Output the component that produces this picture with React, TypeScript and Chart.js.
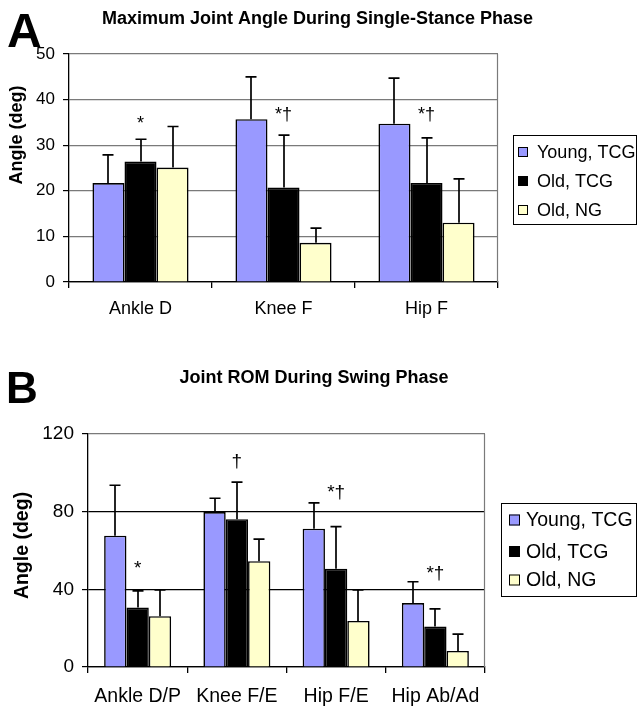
import React, { useEffect, useRef } from "react";
import { Chart, registerables } from "chart.js";
Chart.register(...registerables);

const FONT = "'Liberation Sans', Arial, sans-serif";

const seriesNames = ["Young, TCG", "Old, TCG", "Old, NG"];
const seriesColors = ["#9999FF", "#000000", "#FFFFCC"];

// Panel A: Maximum joint angle during single-stance phase
const categoriesA = ["Ankle D", "Knee F", "Hip F"];
const youngA = [21.7, 35.7, 34.7];
const oldTcgA = [26.4, 20.7, 21.7];
const oldNgA = [25.1, 8.6, 13.0];
const youngSdA = [6.2, 9.3, 10.0];
const oldTcgSdA = [4.9, 11.5, 9.9];
const oldNgSdA = [9.0, 3.2, 9.6];
const marksA = ["*", "*†", "*†"];
const markLevelsA = [34.6, 36.6, 36.6];
const ticksA = [0, 10, 20, 30, 40, 50];

// Panel B: Joint ROM during swing phase
const categoriesB = ["Ankle D/P", "Knee F/E", "Hip F/E", "Hip Ab/Ad"];
const youngB = [67.6, 79.8, 71.2, 32.9];
const oldTcgB = [30.6, 76.1, 50.6, 20.8];
const oldNgB = [26.2, 54.5, 23.7, 8.3];
const youngSdB = [26.0, 7.1, 13.3, 11.0];
const oldTcgSdB = [8.6, 19.1, 21.7, 9.1];
const oldNgSdB = [13.5, 11.4, 16.0, 8.6];
const marksB = ["*", "†", "*†", "*†"];
const markLevelsB = [50.4, 105.8, 89.8, 47.8];
const ticksB = [0, 40, 80, 120];

type Spec = {
  canvasH: number;
  categories: string[];
  values: number[][];
  sds: number[][];
  marks: string[];
  markLevels: number[];
  yTicks: number[];
  area: { left: number; right: number; top: number; bottom: number };
  tickFont: number;
  tickPad: number;
  catFont: number;
  catPad: number;
  gridColor: (v: number) => string;
  catPct: number;
  letter: string;
  letterFont: number;
  letterX: number;
  letterBase: number;
  title: string;
  titleFont: number;
  titleX: number;
  titleBase: number;
  ylabel: string;
  ylabelFont: number;
  ylabelX: number;
  ylabelY: number;
  legend: { x: number; y: number; w: number; h: number; font: number; swatch: number; swX: number; textX: number; rows: number[] };
  markFont: number;
  capHalf: number;
};

const specA: Spec = {
  canvasH: 345,
  categories: categoriesA,
  values: [youngA, oldTcgA, oldNgA],
  sds: [youngSdA, oldTcgSdA, oldNgSdA],
  marks: marksA,
  markLevels: markLevelsA,
  yTicks: ticksA,
  area: { left: 69, right: 498, top: 54, bottom: 282 },
  tickFont: 17,
  tickPad: 8,
  catFont: 18,
  catPad: 10,
  gridColor: (v) => (v === 0 ? "#000000" : "#7a7a7a"),
  catPct: 0.672,
  letter: "A",
  letterFont: 48,
  letterX: 7,
  letterBase: 47,
  title: "Maximum Joint Angle During Single-Stance Phase",
  titleFont: 18,
  titleX: 317.5,
  titleBase: 24,
  ylabel: "Angle (deg)",
  ylabelFont: 18,
  ylabelX: 17.5,
  ylabelY: 135,
  legend: { x: 513.5, y: 135.5, w: 123, h: 89, font: 18, swatch: 10, swX: 518, textX: 537, rows: [152, 181, 210] },
  markFont: 18,
  capHalf: 5.5,
};

const specB: Spec = {
  canvasH: 361,
  categories: categoriesB,
  values: [youngB, oldTcgB, oldNgB],
  sds: [youngSdB, oldTcgSdB, oldNgSdB],
  marks: marksB,
  markLevels: markLevelsB,
  yTicks: ticksB,
  area: { left: 88, right: 485, top: 89, bottom: 322 },
  tickFont: 19,
  tickPad: 8,
  catFont: 19.5,
  catPad: 12,
  gridColor: (v) => (v === 120 ? "#7a7a7a" : "#000000"),
  catPct: 0.675,
  letter: "B",
  letterFont: 44,
  letterX: 6,
  letterBase: 58,
  title: "Joint ROM During Swing Phase",
  titleFont: 18,
  titleX: 314,
  titleBase: 38,
  ylabel: "Angle (deg)",
  ylabelFont: 19.5,
  ylabelX: 22.5,
  ylabelY: 200.5,
  legend: { x: 501.5, y: 158.5, w: 135, h: 93, font: 19.5, swatch: 11, swX: 509, textX: 526, rows: [175, 206.5, 235] },
  markFont: 19,
  capHalf: 5.5,
};

function makeChart(canvas: HTMLCanvasElement, s: Spec): Chart {
  const W = 639;
  const yMax = s.yTicks[s.yTicks.length - 1];
  const overlay = {
    id: "overlay",
    afterDatasetsDraw(chart: any) {
      const ctx = chart.ctx as CanvasRenderingContext2D;
      const y = chart.scales.y;
      const ca = chart.chartArea;
      ctx.save();
      // error bars (upper only)
      ctx.strokeStyle = "#000";
      ctx.lineWidth = 1.7;
      s.values.forEach((vals, di) => {
        const meta = chart.getDatasetMeta(di);
        meta.data.forEach((el: any, i: number) => {
          const top = y.getPixelForValue(vals[i] + s.sds[di][i]);
          const x = Math.round(el.x);
          ctx.beginPath();
          ctx.moveTo(x, el.y);
          ctx.lineTo(x, top);
          ctx.moveTo(x - s.capHalf, top);
          ctx.lineTo(x + s.capHalf, top);
          ctx.stroke();
        });
      });
      // significance marks above the Old, TCG bars
      const meta1 = chart.getDatasetMeta(1);
      ctx.fillStyle = "#000";
      ctx.font = `${s.markFont}px ${FONT}`;
      ctx.textAlign = "center";
      ctx.textBaseline = "middle";
      s.marks.forEach((m, i) => {
        const el: any = meta1.data[i];
        ctx.fillText(m, el.x, y.getPixelForValue(s.markLevels[i]));
      });
      // right border of the plot area
      ctx.strokeStyle = "#7a7a7a";
      ctx.lineWidth = 1.2;
      ctx.beginPath();
      ctx.moveTo(Math.round(ca.right) - 0.5, ca.top);
      ctx.lineTo(Math.round(ca.right) - 0.5, ca.bottom);
      ctx.stroke();
      ctx.restore();
    },
    afterDraw(chart: any) {
      const ctx = chart.ctx as CanvasRenderingContext2D;
      ctx.save();
      ctx.fillStyle = "#000";
      // panel letter
      ctx.font = `bold ${s.letterFont}px ${FONT}`;
      ctx.textAlign = "left";
      ctx.textBaseline = "alphabetic";
      ctx.fillText(s.letter, s.letterX, s.letterBase);
      // title
      ctx.font = `bold ${s.titleFont}px ${FONT}`;
      ctx.textAlign = "center";
      ctx.fillText(s.title, s.titleX, s.titleBase);
      // y label
      ctx.save();
      ctx.translate(s.ylabelX, s.ylabelY);
      ctx.rotate(-Math.PI / 2);
      ctx.font = `bold ${s.ylabelFont}px ${FONT}`;
      ctx.textAlign = "center";
      ctx.textBaseline = "middle";
      ctx.fillText(s.ylabel, 0, 0);
      ctx.restore();
      // legend
      const L = s.legend;
      ctx.strokeStyle = "#000";
      ctx.lineWidth = 1;
      ctx.strokeRect(L.x, L.y, L.w, L.h);
      ctx.font = `${L.font}px ${FONT}`;
      ctx.textAlign = "left";
      ctx.textBaseline = "middle";
      seriesNames.forEach((name, i) => {
        const cy = L.rows[i];
        ctx.fillStyle = seriesColors[i];
        ctx.fillRect(L.swX, cy - L.swatch / 2, L.swatch, L.swatch);
        ctx.strokeRect(L.swX + 0.5, cy - L.swatch / 2 + 0.5, L.swatch - 1, L.swatch - 1);
        ctx.fillStyle = "#000";
        ctx.fillText(name, L.textX, cy + 1);
      });
      ctx.restore();
    },
  };

  return new Chart(canvas, {
    type: "bar",
    data: {
      labels: s.categories,
      datasets: s.values.map((vals, i) => ({
        label: seriesNames[i],
        data: vals,
        backgroundColor: seriesColors[i],
        borderColor: "#000",
        borderWidth: 1.6,
        categoryPercentage: s.catPct,
        barPercentage: 1,
      })),
    },
    options: {
      responsive: false,
      animation: false,
      devicePixelRatio: 1,
      layout: { padding: { top: s.area.top, right: W - s.area.right, left: 0, bottom: 0 } },
      plugins: { legend: { display: false }, title: { display: false }, tooltip: { enabled: false } },
      scales: {
        x: {
          offset: true,
          grid: { offset: true, drawOnChartArea: false, drawTicks: true, tickLength: 6, color: "#000", tickColor: "#000", lineWidth: 1.3 },
          border: { display: true, color: "#000", width: 1.3 },
          ticks: { color: "#000", font: { family: FONT, size: s.catFont }, padding: s.catPad, maxRotation: 0, autoSkip: false },
          afterFit: (scale: any) => {
            scale.height = s.canvasH - s.area.bottom;
          },
        },
        y: {
          min: 0,
          max: yMax,
          afterBuildTicks: (scale: any) => {
            scale.ticks = s.yTicks.map((v) => ({ value: v }));
          },
          grid: {
            color: (c: any) => s.gridColor(c.tick ? c.tick.value : 0),
            tickColor: "#000",
            tickLength: 6,
            lineWidth: 1.2,
          },
          border: { display: true, color: "#000", width: 1.3 },
          ticks: { color: "#000", font: { family: FONT, size: s.tickFont }, padding: s.tickPad },
          afterFit: (scale: any) => {
            scale.width = s.area.left;
          },
        },
      },
    },
    plugins: [overlay as any],
  });
}

export default function App() {
  const refA = useRef<HTMLCanvasElement>(null);
  const refB = useRef<HTMLCanvasElement>(null);
  useEffect(() => {
    const a = makeChart(refA.current!, specA);
    const b = makeChart(refB.current!, specB);
    return () => {
      a.destroy();
      b.destroy();
    };
  }, []);
  return (
    <div style={{ position: "absolute", left: 0, top: 0, width: 639, height: 706, background: "#fff" }}>
      <canvas ref={refA} width={639} height={345} style={{ position: "absolute", left: 0, top: 0, width: 639, height: 345 }} />
      <canvas ref={refB} width={639} height={361} style={{ position: "absolute", left: 0, top: 345, width: 639, height: 361 }} />
    </div>
  );
}
